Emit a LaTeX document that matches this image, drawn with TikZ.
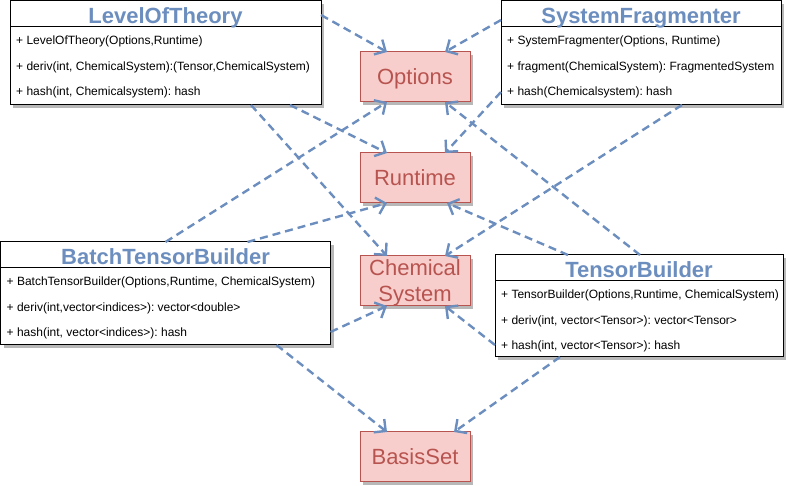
\documentclass[tikz,border=0pt]{standalone}
\usepackage{fontspec}
\setmainfont{Liberation Sans}
\usetikzlibrary{arrows.meta,shadows}
\definecolor{dblue}{HTML}{6C8EBF}
\definecolor{rfill}{HTML}{F8CECC}
\definecolor{rline}{HTML}{B85450}
\frenchspacing
\begin{document}
\begin{tikzpicture}[x=1pt,y=-1pt,
  shd/.style={drop shadow={shadow xshift=3pt,shadow yshift=-3pt,fill=black!28,opacity=1}},
  classbox/.style={draw=black,fill=white,line width=1pt,shd,inner sep=0pt,outer sep=0pt},
  sepline/.style={draw=black,line width=1pt},
  titletext/.style={font=\fontsize{22}{26}\selectfont\bfseries,text=dblue,inner sep=0pt,anchor=base},
  membertext/.style={font=\fontsize{12}{14}\selectfont\frenchspacing,text=black,inner sep=0pt,anchor=base west},
  redbox/.style={draw=rline,fill=rfill,text=rline,line width=1pt,shd,minimum width=110pt,minimum height=50pt,
    inner sep=0pt,outer sep=0pt,align=center,text depth=0pt,font=\fontsize{22}{26}\selectfont},
  conn/.style={draw=dblue,line width=2.4pt,dash pattern=on 8pt off 5pt,
    -{Straight Barb[length=8.5pt,width=17pt]}}]
\useasboundingbox (0,0) rectangle (788,486);

% target boxes
\node[redbox] (opt) at (415,77) {Options};
\node[redbox] (run) at (415,178) {Runtime};
\node[redbox] (chem) at (415,281) {Chemical\\System};
\node[redbox] (basis) at (415,457) {BasisSet};

% LevelOfTheory
\node[classbox,minimum width=311pt,minimum height=104pt] (lot) at (165.5,53) {};
\draw[sepline] ([yshift=-25.5pt]lot.north west) -- ([yshift=-25.5pt]lot.north east);
\node[titletext] (lott) at ([yshift=-22.5pt]lot.north) {LevelOfTheory};
\node[membertext] (lotm1) at ([xshift=6pt,yshift=-44pt]lot.north west) {+ LevelOfTheory(Options,Runtime)};
\node[membertext] (lotm2) at ([xshift=6pt,yshift=-69.5pt]lot.north west) {+ deriv(int, ChemicalSystem):(Tensor,ChemicalSystem)};
\node[membertext] (lotm3) at ([xshift=6pt,yshift=-95pt]lot.north west) {+ hash(int, Chemicalsystem): hash};

% SystemFragmenter
\node[classbox,minimum width=280pt,minimum height=104pt] (sf) at (641,53) {};
\draw[sepline] ([yshift=-25.5pt]sf.north west) -- ([yshift=-25.5pt]sf.north east);
\node[titletext] (sft) at ([yshift=-22.5pt]sf.north) {SystemFragmenter};
\node[membertext] (sfm1) at ([xshift=6pt,yshift=-44pt]sf.north west) {+ SystemFragmenter(Options, Runtime)};
\node[membertext] (sfm2) at ([xshift=6pt,yshift=-69.5pt]sf.north west) {+ fragment(ChemicalSystem): FragmentedSystem};
\node[membertext] (sfm3) at ([xshift=6pt,yshift=-95pt]sf.north west) {+ hash(Chemicalsystem): hash};

% BatchTensorBuilder
\node[classbox,minimum width=330pt,minimum height=103pt] (btb) at (165.5,293.5) {};
\draw[sepline] ([yshift=-25.5pt]btb.north west) -- ([yshift=-25.5pt]btb.north east);
\node[titletext] (btbt) at ([yshift=-22.5pt]btb.north) {BatchTensorBuilder};
\node[membertext] (btbm1) at ([xshift=6pt,yshift=-44pt]btb.north west) {+ BatchTensorBuilder(Options,Runtime, ChemicalSystem)};
\node[membertext] (btbm2) at ([xshift=6pt,yshift=-69.5pt]btb.north west) {+ deriv(int,vector<indices>): vector<double>};
\node[membertext] (btbm3) at ([xshift=6pt,yshift=-95pt]btb.north west) {+ hash(int, vector<indices>): hash};

% TensorBuilder
\node[classbox,minimum width=288pt,minimum height=102pt] (tb) at (639,306) {};
\draw[sepline] ([yshift=-25.5pt]tb.north west) -- ([yshift=-25.5pt]tb.north east);
\node[titletext] (tbt) at ([yshift=-22.5pt]tb.north) {TensorBuilder};
\node[membertext] (tbm1) at ([xshift=6pt,yshift=-44pt]tb.north west) {+ TensorBuilder(Options,Runtime, ChemicalSystem)};
\node[membertext] (tbm2) at ([xshift=6pt,yshift=-69.5pt]tb.north west) {+ deriv(int, vector<Tensor>): vector<Tensor>};
\node[membertext] (tbm3) at ([xshift=6pt,yshift=-95pt]tb.north west) {+ hash(int, vector<Tensor>): hash};

% connectors
\draw[conn] ([yshift=-14pt]lot.north east) -- ([xshift=-28pt]opt.north);
\draw[conn] ([xshift=-31pt]lot.south east) -- ([xshift=-28pt]run.north);
\draw[conn] ([xshift=-70pt]lot.south east) -- ([xshift=-28pt]chem.north);

\draw[conn] ([yshift=-19pt]sf.north west) -- ([xshift=30pt]opt.north);
\draw[conn] ([yshift=-91pt]sf.north west) -- ([xshift=30pt]run.north);
\draw[conn] ([xshift=-99pt]sf.south east) -- ([xshift=30pt]chem.north);

\draw[conn] (btb.north) -- ([xshift=-28pt]opt.south);
\draw[conn] ([xshift=82pt]btb.north) -- ([xshift=-28pt]run.south);
\draw[conn] ([yshift=-90pt]btb.north east) -- ([xshift=-28pt]chem.south);
\draw[conn] ([xshift=-54pt]btb.south east) -- ([xshift=-28pt]basis.north);

\draw[conn] ([xshift=1pt]tb.north) -- ([xshift=30pt]opt.south);
\draw[conn] ([xshift=-71pt]tb.north) -- ([xshift=32pt]run.south);
\draw[conn] ([yshift=-90pt]tb.north west) -- ([xshift=30pt]chem.south);
\draw[conn] ([xshift=-79pt]tb.south) -- ([xshift=39pt]basis.north);
\end{tikzpicture}
\end{document}
